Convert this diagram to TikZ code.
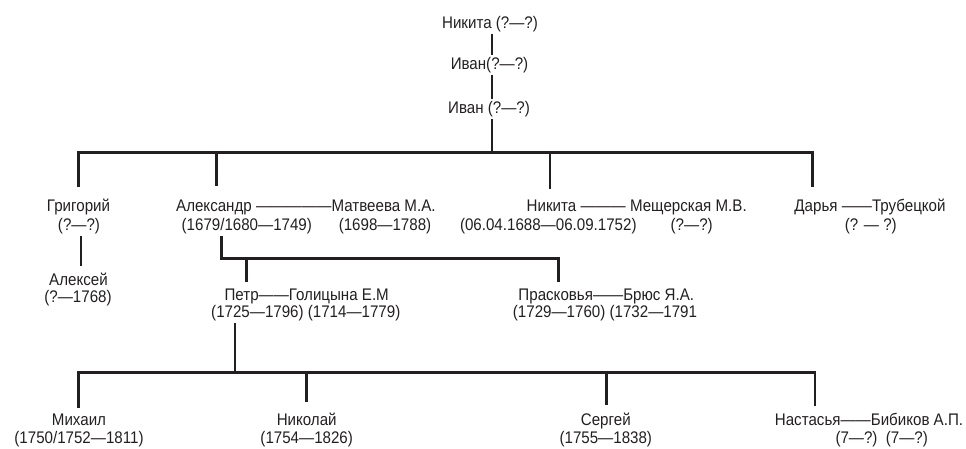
\documentclass[tikz,border=0pt]{standalone}
\usepackage{fontspec}
\setmainfont{Liberation Sans}[FakeStretch=0.9]
\definecolor{ink}{RGB}{35,31,32}
\begin{document}
\begin{tikzpicture}[x=1pt,y=-1pt,
  lbl/.style={inner sep=2pt, text=ink, anchor=base, font=\fontsize{16.8}{19}\selectfont},
  link/.style={draw=ink, line width=2.8pt},
]
\useasboundingbox (0,0) rectangle (966,448);
% top line
\node[lbl] (nik0)  at (490,28)    {Никита (?—?)};
\node[lbl] (ivan1) at (489.5,69)  {Иван(?—?)};
\node[lbl] (ivan2) at (489,113.3) {Иван (?—?)};
% generation row 1
\node[lbl] (grig)  at (78.5,211.7) {Григорий};
\node[lbl] (grigd) at (79,230.5)   {(?—?)};
\node[lbl] (alek)  at (78.5,285)   {Алексей};
\node[lbl] (alekd) at (78,302.5)   {(?—1768)};
\node[lbl] (alex)  at (305.9,211.7) {Александр —————Матвеева М.А.};
\node[lbl] (alexd) at (246.8,230.5) {(1679/1680—1749)};
\node[lbl] (matvd) at (385,230.5)   {(1698—1788)};
\node[lbl] (nik)   at (636.7,211.7) {Никита ——— Мещерская М.В.};
\node[lbl] (nikd)  at (548.3,230.5) {(06.04.1688—06.09.1752)};
\node[lbl] (meshd) at (691.7,230.5) {(?—?)};
\node[lbl] (dar)   at (870,211.7)   {Дарья ——Трубецкой};
\node[lbl] (dard)  at (870.8,230.5) {(? — ?)};
% generation row 2
\node[lbl] (petr)  at (306.7,300) {Петр——Голицына Е.М};
\node[lbl] (petrd) at (305.8,317.5) {(1725—1796) (1714—1779)};
\node[lbl] (prask) at (606.3,300) {Прасковья——Брюс Я.А.};
\node[lbl] (praskd) at (605,317.5) {(1729—1760) (1732—1791};
% generation row 3
\node[lbl] (mikh)  at (79,425)    {Михаил};
\node[lbl] (mikhd) at (79,443)    {(1750/1752—1811)};
\node[lbl] (nikol) at (306.7,425) {Николай};
\node[lbl] (nikold) at (306.7,443) {(1754—1826)};
\node[lbl] (serg)  at (605.8,425) {Сергей};
\node[lbl] (sergd) at (605.8,443) {(1755—1838)};
\node[lbl] (nast)  at (869,425)   {Настасья——Бибиков А.П.};
\node[lbl] (nastd) at (881.7,443) {(7—?)\ \ (7—?)};
% trunk
\coordinate (trunk) at (492,0);
\coordinate (b1) at (492,152.5);
\draw[link] (nik0.south -| trunk) -- (ivan1.north -| trunk);
\draw[link] (ivan1.south -| trunk) -- (ivan2.north -| trunk);
\draw[link] (ivan2.south -| trunk) -- (b1);
% first bar
\coordinate (cGrig) at (78.3,152.5);
\coordinate (cAlex) at (216.7,152.5);
\coordinate (cNik)  at (550,152.5);
\coordinate (cDar)  at (812.3,152.5);
\draw[link, shorten <=10pt, shorten >=10pt] (cGrig |- grig.north) -- (cGrig) -- (cDar) -- (cDar |- dar.north);
\draw[link, shorten >=12pt] (cAlex) -- (cAlex |- alex.north);
\draw[link, shorten >=9pt] (cNik) -- (cNik |- nik.north);
% Grigory -> Aleksey
\coordinate (gl) at (81,0);
\draw[link, shorten >=4pt] (grigd.south -| gl) -- (alek.north -| gl);
% Alexander's children
\coordinate (aL) at (221.7,258.3);
\coordinate (aR) at (558.3,258.3);
\coordinate (aP) at (246.7,258.3);
\draw[link, shorten >=4pt] (alexd.south -| aL) -- (aL) -- (aR) -- (aR |- prask.north);
\draw[link, shorten >=4pt] (aP) -- (aP |- petr.north);
% Petr's children
\coordinate (pT) at (235,0);
\coordinate (b3) at (235,372.7);
\draw[link] (petrd.south -| pT) -- (b3);
\coordinate (cM)  at (78.3,372.7);
\coordinate (cN)  at (306.7,372.7);
\coordinate (cS)  at (606.7,372.7);
\coordinate (cNa) at (815,372.7);
\draw[link, shorten <=3pt, shorten >=4pt] (cM |- mikh.north) -- (cM) -- (cNa) -- (cNa |- nast.north);
\draw[link, shorten >=8pt] (cN) -- (cN |- nikol.north);
\draw[link, shorten >=5pt] (cS) -- (cS |- serg.north);
\end{tikzpicture}
\end{document}
